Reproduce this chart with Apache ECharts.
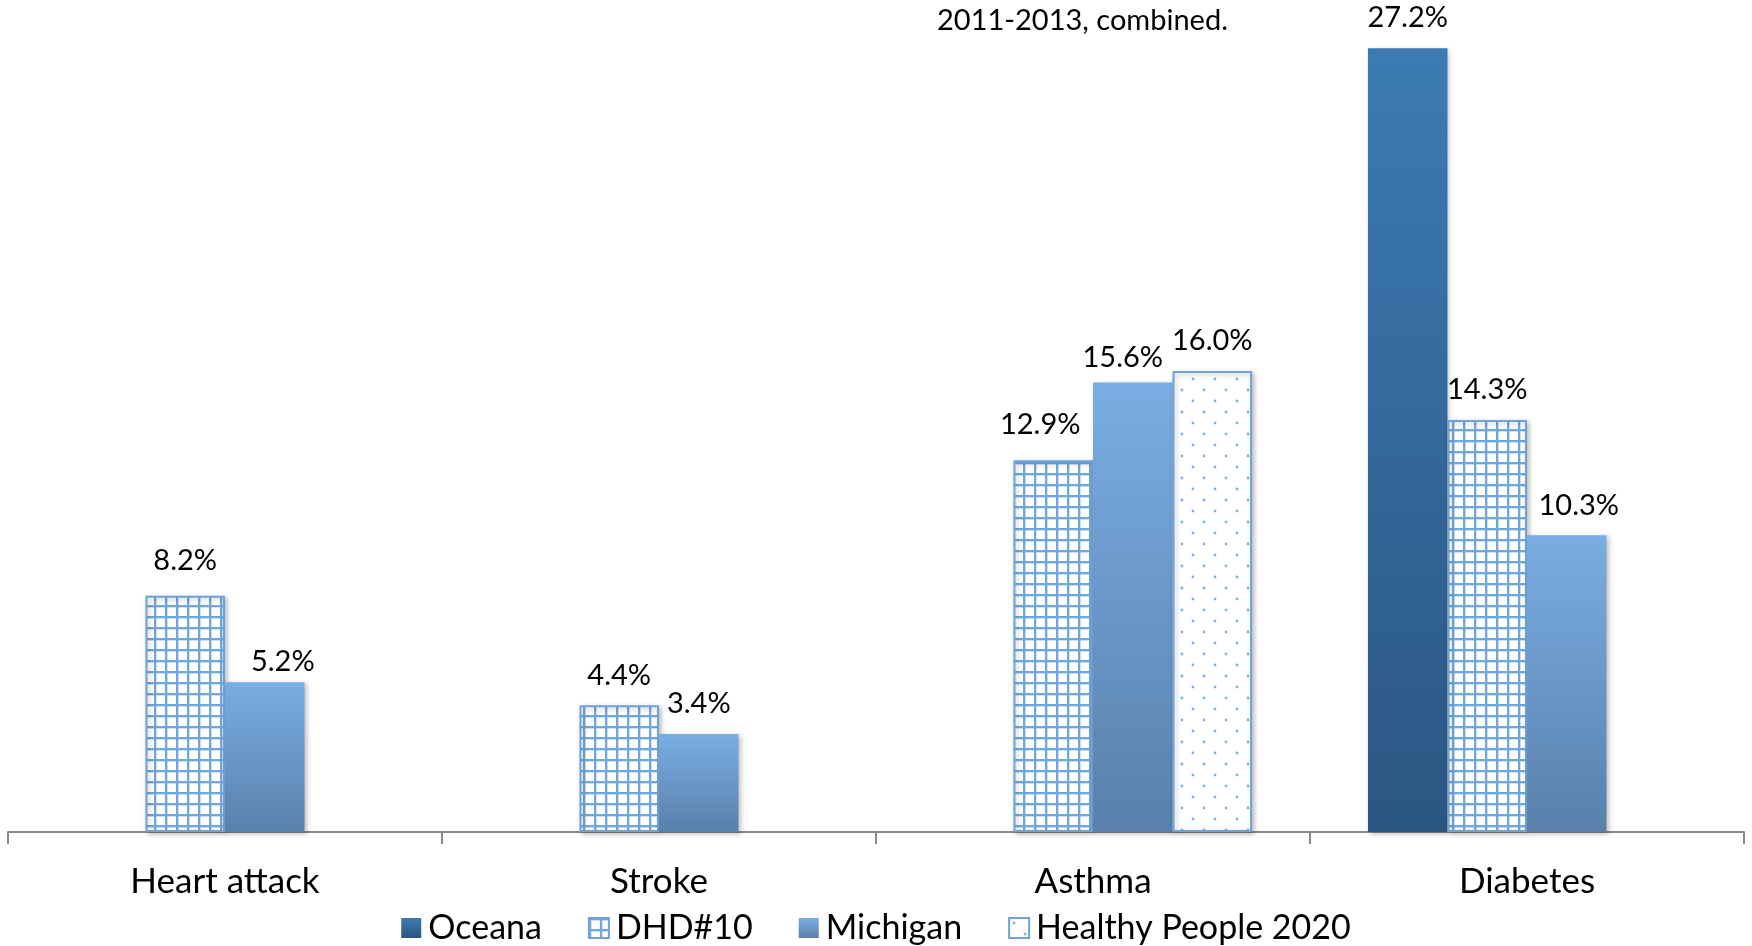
<!DOCTYPE html>
<html>
<head>
<meta charset="utf-8">
<script src="https://cdn.jsdelivr.net/npm/echarts@6/dist/echarts.min.js"></script>
<style>
    html, body { margin: 0; padding: 0; background: #fff; }
    #chart { width: 1752px; height: 946px; }
</style>
</head>
<body>
<div id="chart"></div>
<script>
let categories = ['Heart attack', 'Stroke', 'Asthma', 'Diabetes'];
let oceana = [null, null, null, 27.2];
let dhd10 = [8.2, 4.4, 12.9, 14.3];
let michigan = [5.2, 3.4, 15.6, 10.3];
let healthyPeople = [null, null, 16.0, null];

// hand-placed label nudges from the original (series -> category index -> [dx, dy])
let nudge = {
    'DHD#10': {0: [0, -5], 2: [-13, -6]},
    'Michigan': {0: [18, 9], 2: [-10, 5], 3: [12, 0]}
};

let make_grid = function () {
    let c = document.createElement('canvas');
    c.width = 11;
    c.height = 11;
    let g = c.getContext('2d');
    g.fillStyle = '#ffffff';
    g.fillRect(0, 0, 11, 11);
    g.fillStyle = '#6fa6dc';
    g.fillRect(0, 0, 11, 2);
    g.fillRect(0, 0, 2, 11);
    g.fillStyle = 'rgba(111,166,220,0.35)';
    g.fillRect(0, 2, 11, 1);
    g.fillRect(2, 0, 1, 11);
    return c;
};

let make_dots = function () {
    let c = document.createElement('canvas');
    c.width = 22;
    c.height = 22;
    let g = c.getContext('2d');
    g.fillStyle = '#ffffff';
    g.fillRect(0, 0, 22, 22);
    g.fillStyle = '#7fb1e3';
    [[5, 5], [16, 16]].forEach(function (p) {
        g.beginPath();
        g.arc(p[0], p[1], 1.4, 0, Math.PI * 2);
        g.fill();
    });
    return c;
};

let grad = function (top, bottom) {
    return new echarts.graphic.LinearGradient(0, 0, 0, 1, [
        {offset: 0, color: top},
        {offset: 1, color: bottom}
    ]);
};

let shadow = {
    shadowColor: 'rgba(0,0,0,0.25)',
    shadowBlur: 5,
    shadowOffsetX: 2,
    shadowOffsetY: 2
};

let make_series = function (name, values, itemStyle) {
    let n = nudge[name] || {};
    return {
        name: name,
        type: 'bar',
        barGap: '0%',
        barCategoryGap: '26.7%',
        itemStyle: Object.assign({}, shadow, itemStyle),
        data: values.map(function (v, i) {
            if (v === null) return '-';
            let item = {value: v};
            if (n[i]) item.label = {offset: n[i]};
            return item;
        }),
        label: {
            show: true,
            position: 'top',
            distance: 16,
            fontFamily: 'Lato',
            fontSize: 29,
            lineHeight: 28,
            color: '#000',
            formatter: function (p) {
                return p.value.toFixed(1) + '%';
            }
        }
    };
};

let chart = echarts.init(document.getElementById('chart'));
let option = {
    animation: false,
    backgroundColor: '#fff',
    title: {
        text: '2011-2013, combined.',
        left: 932,
        top: 1,
        textStyle: {fontFamily: 'Lato', fontSize: 29, fontWeight: 'normal', color: '#000'}
    },
    legend: {
        bottom: -4,
        left: 'center',
        icon: 'rect',
        itemWidth: 20,
        itemHeight: 20,
        itemGap: 46,
        textStyle: {fontFamily: 'Lato', fontSize: 34, color: '#000', padding: [0, 0, 0, 2]},
        data: ['Oceana', 'DHD#10', 'Michigan', 'Healthy People 2020']
    },
    grid: {left: 8, right: 8, top: 0, bottom: 114, containLabel: false},
    xAxis: {
        type: 'category',
        data: categories,
        axisLine: {lineStyle: {color: '#898989', width: 2}},
        axisTick: {show: true, alignWithLabel: false, interval: 0, length: 12, lineStyle: {color: '#898989', width: 2}},
        axisLabel: {fontFamily: 'Lato', fontSize: 35, color: '#000', margin: 32}
    },
    yAxis: {
        type: 'value',
        min: 0,
        max: 28.87,
        show: false,
        splitLine: {show: false}
    },
    series: [
        make_series('Oceana', oceana, {color: grad('#3c7bb3', '#2b5682')}),
        make_series('DHD#10', dhd10, {color: {image: make_grid(), repeat: 'repeat'}, borderColor: '#6fa3d8', borderWidth: 2}),
        make_series('Michigan', michigan, {color: grad('#7aade3', '#5a80ab')}),
        make_series('Healthy People 2020', healthyPeople, {color: {image: make_dots(), repeat: 'repeat'}, borderColor: '#6fa3d8', borderWidth: 2})
    ]
};
chart.setOption(option, true);
</script>
</body>
</html>
